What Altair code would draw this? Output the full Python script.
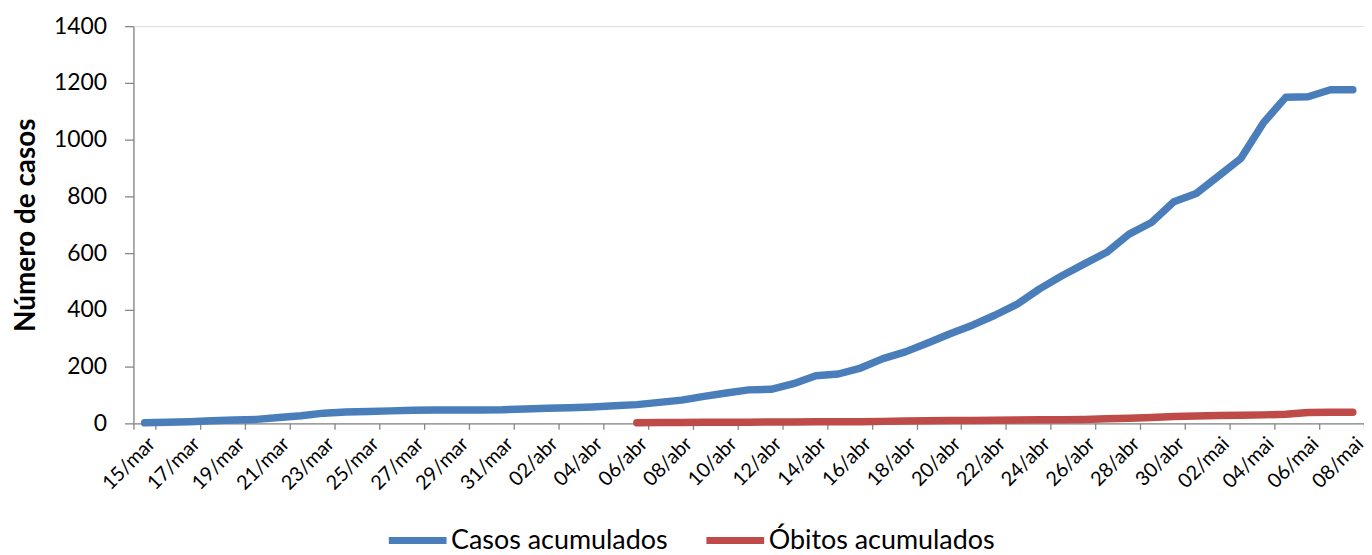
import altair as alt
import pandas as pd

datas = [
    "15/mar", "16/mar", "17/mar", "18/mar", "19/mar", "20/mar", "21/mar", "22/mar",
    "23/mar", "24/mar", "25/mar", "26/mar", "27/mar", "28/mar", "29/mar", "30/mar",
    "31/mar",
    "01/abr", "02/abr", "03/abr", "04/abr", "05/abr", "06/abr", "07/abr", "08/abr",
    "09/abr", "10/abr", "11/abr", "12/abr", "13/abr", "14/abr", "15/abr", "16/abr",
    "17/abr", "18/abr", "19/abr", "20/abr", "21/abr", "22/abr", "23/abr", "24/abr",
    "25/abr", "26/abr", "27/abr", "28/abr", "29/abr", "30/abr",
    "01/mai", "02/mai", "03/mai", "04/mai", "05/mai", "06/mai", "07/mai", "08/mai",
]

casos = [
    2, 4, 6, 9, 12, 14, 21, 27, 36, 40, 42, 44, 46, 47, 47, 47, 48,
    51, 53, 55, 58, 62, 66, 74, 82, 95, 107, 118, 120, 140, 168, 174, 195,
    228, 252, 283, 316, 346, 381, 420, 474, 520, 562, 603, 667, 708, 781,
    810, 872, 934, 1059, 1149, 1151, 1176, 1176,
]

# Óbitos start on 06/abr
obitos_datas = datas[22:]
obitos = [
    2, 3, 3, 4, 4, 4, 5, 5, 6, 6, 6, 7, 8, 9, 10, 10, 11, 12, 13, 13, 14,
    16, 18, 21, 24, 26, 28, 29, 30, 32, 38, 39, 39,
]

serie_casos = "Casos acumulados"
serie_obitos = "Óbitos acumulados"

df = pd.concat([
    pd.DataFrame({"data": datas, "valor": casos, "serie": serie_casos}),
    pd.DataFrame({"data": obitos_datas, "valor": obitos, "serie": serie_obitos}),
], ignore_index=True)

FONT = "Lato"
AXIS_COLOR = "#868686"

chart = alt.Chart(df).mark_line(
    strokeWidth=7.5, strokeCap="round", strokeJoin="round"
).encode(
    x=alt.X(
        "data:N",
        sort=datas,
        bandPosition=0.5,
        scale=alt.Scale(type="band", domain=datas, paddingInner=0, paddingOuter=0),
        axis=alt.Axis(
            title=None,
            values=datas[::2],
            tickBand="extent",
            labelAngle=-45,
            labelFont=FONT,
            labelFontSize=20,
            labelColor="black",
            labelOverlap=False,
            labelFlush=False,
            labelBound=False,
            labelPadding=4,
            tickSize=6,
            tickColor=AXIS_COLOR,
            domainColor=AXIS_COLOR,
            domainWidth=1.3,
            tickWidth=1.3,
            grid=False,
        ),
    ),
    y=alt.Y(
        "valor:Q",
        scale=alt.Scale(domain=[0, 1400], nice=False, zero=True),
        axis=alt.Axis(
            title="Número de casos",
            values=[0, 200, 400, 600, 800, 1000, 1200, 1400],
            format="d",
            titleFont=FONT,
            titleFontSize=28,
            titleFontWeight="bold",
            titleColor="black",
            titleAngle=-90,
            titleX=-107,
            titleY=199.5,
            titleAlign="center",
            titleBaseline="middle",
            labelFont=FONT,
            labelFontSize=23,
            labelColor="black",
            labelPadding=18,
            tickSize=9,
            tickColor=AXIS_COLOR,
            domainColor=AXIS_COLOR,
            domainWidth=1.3,
            tickWidth=1.3,
            grid=False,
        ),
    ),
    color=alt.Color(
        "serie:N",
        scale=alt.Scale(domain=[serie_casos, serie_obitos], range=["#4A7EBB", "#BE4B48"]),
        legend=alt.Legend(
            title=None,
            orient="none",
            direction="horizontal",
            legendX=253,
            legendY=484,
            padding=0,
            symbolType="stroke",
            symbolSize=3364,
            symbolStrokeWidth=7,
            labelFont=FONT,
            labelFontSize=27,
            labelColor="black",
            labelOffset=1,
            columnPadding=24,
            labelLimit=400,
        ),
    ),
).properties(
    width=1236,
    height=399,
    autosize=alt.AutoSizeParams(type="none"),
    padding={"left": 126, "top": 17, "right": 0, "bottom": 131},
).configure_view(stroke=None).configure(background="white")

chart.save("out.html", embed_options={"renderer": "svg", "actions": False})
